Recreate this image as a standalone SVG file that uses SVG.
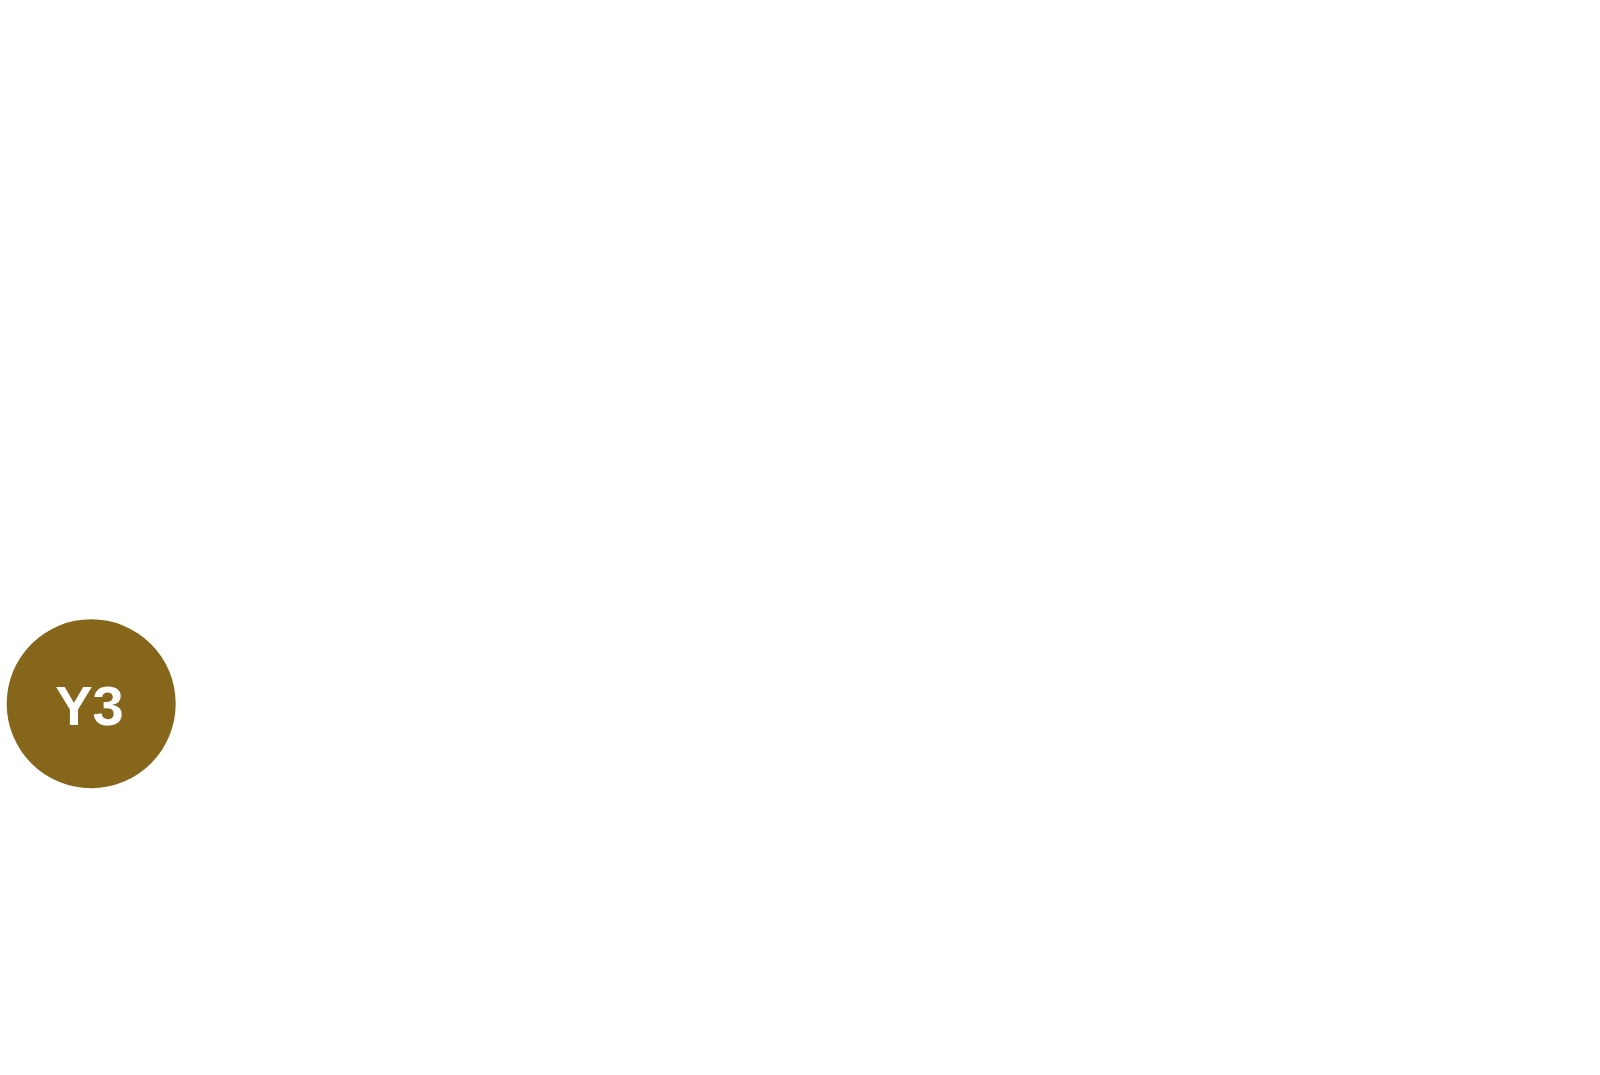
<svg xmlns="http://www.w3.org/2000/svg" width="1600" height="1075" viewBox="0 0 1600 1075">
<style>
.node-circle{fill:#86661a}
.node-label{font-family:"Liberation Sans",Arial,sans-serif;font-weight:bold;font-size:56px;fill:#ffffff;text-anchor:middle}
</style>
<rect width="1600" height="1075" fill="#ffffff"/>
<g id="connectors"></g>
<g id="node-y3">
<circle class="node-circle" cx="91.2" cy="703.7" r="84.5"/>
<text class="node-label" x="89.5" y="725">Y3</text>
</g>
</svg>
